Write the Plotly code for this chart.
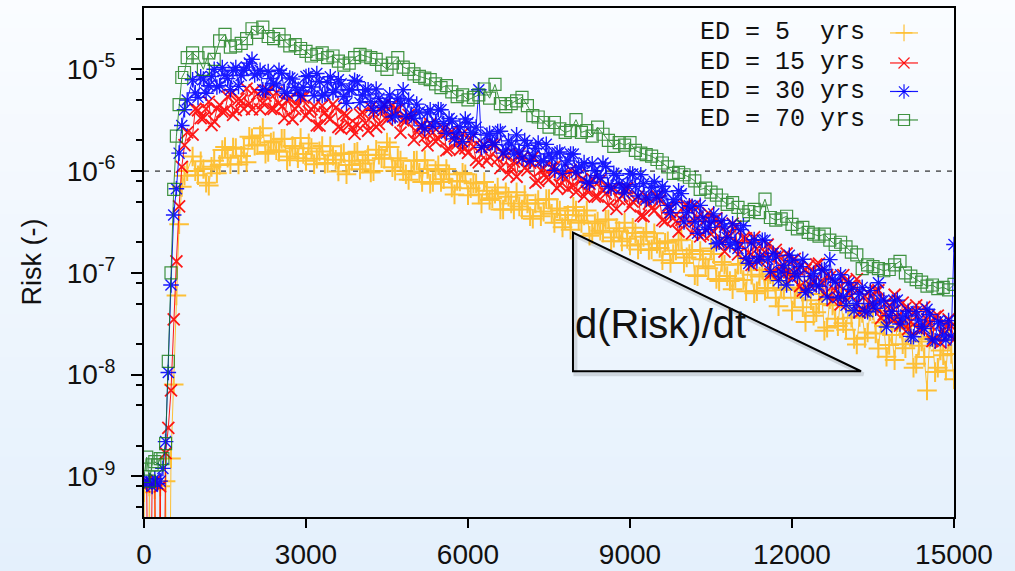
import plotly.graph_objects as go

# ---------------- data ----------------
time_early = [0, 50, 100, 150, 200, 250, 300, 350, 400, 450, 500, 550, 600, 650, 700, 750, 800]
time_steps = time_early + list(range(900, 15001, 100))
time_mid = list(range(950, 14951, 100))   # intermediate samples of the dense series

x_tick_values = [0, 3000, 6000, 9000, 12000, 15000]
x_tick_labels = ["0", "3000", "6000", "9000", "12000", "15000"]
y_tick_values = [1e-9, 1e-8, 1e-7, 1e-6, 1e-5]
y_tick_labels = ["10<sup>-9</sup>", "10<sup>-8</sup>", "10<sup>-7</sup>", "10<sup>-6</sup>", "10<sup>-5</sup>"]
y_minor_values = [5e-10, 8e-10, 2e-9, 5e-9, 8e-9, 2e-8, 5e-8, 8e-8, 2e-7, 5e-7, 8e-7,
                  2e-6, 5e-6, 8e-6, 2e-5]

series_names = ["ED = 5  yrs", "ED = 15 yrs", "ED = 30 yrs", "ED = 70 yrs"]
threshold_risk = 1e-6

risk_ed5 = [
    7e-10, 1e-12, 8e-10, 1e-12, 7.5e-10, 1e-12, 8e-10, 1e-12, 9e-10, 1e-12,
    1.5e-9, 8e-9, 6e-8, 3e-7, 7e-7, 9e-7, 1.0e-6,
    1.39e-6, 9.1e-7, 1.05e-6, 7.2e-7, 1.26e-6, 1.15e-6, 1.72e-6, 1.17e-6, 1.68e-6, 1.41e-6,
    1.22e-6, 2.1e-6, 1.81e-6, 2.64e-6, 1.54e-6, 1.96e-6, 1.55e-6, 2.08e-6, 1.39e-6, 1.68e-6,
    2.11e-6, 1.26e-6, 1.68e-6, 1.32e-6, 1.76e-6, 1.2e-6, 1.42e-6, 9.9e-7, 1.5e-6, 1.15e-6,
    1.51e-6, 1.04e-6, 1.28e-6, 9.7e-7, 1.62e-6, 1.34e-6, 1.91e-6, 1.09e-6, 1.34e-6, 1.0e-6,
    8.2e-7, 1.26e-6, 9.6e-7, 1.28e-6, 7.5e-7, 1.01e-6, 7.8e-7, 1.05e-6, 6.9e-7, 8.0e-7,
    9.6e-7, 5.8e-7, 7.6e-7, 5.9e-7, 7.8e-7, 5.2e-7, 6.0e-7, 4.2e-7, 6.2e-7, 4.8e-7,
    6.2e-7, 4.2e-7, 4.8e-7, 3.4e-7, 5.2e-7, 4.0e-7, 5.3e-7, 3.1e-7, 4.1e-7, 3.3e-7,
    2.66e-7, 4.1e-7, 3.1e-7, 4.1e-7, 2.43e-7, 3.2e-7, 2.5e-7, 3.34e-7, 2.22e-7, 2.57e-7,
    3.1e-7, 1.86e-7, 2.46e-7, 1.91e-7, 2.52e-7, 1.7e-7, 1.94e-7, 1.33e-7, 2.04e-7, 1.53e-7,
    2.09e-7, 1.25e-7, 1.53e-7, 9.5e-8, 1.64e-7, 1.16e-7, 1.74e-7, 8.7e-8, 1.28e-7, 9.3e-8,
    6.9e-8, 1.2e-7, 8.5e-8, 1.26e-7, 6.3e-8, 9.2e-8, 6.7e-8, 9.7e-8, 5.7e-8, 7.1e-8,
    9.95e-8, 4.26e-8, 7.0e-8, 4.6e-8, 7.7e-8, 3.8e-8, 4.95e-8, 2.7e-8, 5.5e-8, 3.55e-8,
    5.6e-8, 2.77e-8, 3.63e-8, 1.98e-8, 4.05e-8, 2.6e-8, 4.27e-8, 1.81e-8, 3.0e-8, 1.96e-8,
    1.39e-8, 2.84e-8, 1.82e-8, 3.0e-8, 1.28e-8, 2.12e-8, 7e-9, 2.34e-8, 1.17e-8, 1.55e-8,
    2.2e-8, 9e-9,
]
risk_ed5_mid = [
    1.0e-6, 1.25e-6, 7.7e-7, 1.1e-6, 9.5e-7, 1.61e-6, 1.35e-6, 1.7e-6, 1.16e-6, 1.66e-6,
    2.17e-6, 1.78e-6, 2.24e-6, 1.48e-6, 1.91e-6, 1.6e-6, 2.07e-6, 1.28e-6, 1.76e-6, 1.34e-6,
    1.47e-6, 1.87e-6, 1.17e-6, 1.56e-6, 1.18e-6, 1.75e-6, 1.29e-6, 1.47e-6, 9.3e-7, 1.26e-6,
    1.55e-6, 1.19e-6, 1.44e-6, 1.0e-6, 1.45e-6, 1.32e-6, 1.72e-6, 1.01e-6, 1.27e-6, 9.3e-7,
    9.9e-7, 1.27e-6, 7.8e-7, 1.05e-6, 7.8e-7, 1.14e-6, 8.3e-7, 9.3e-7, 5.9e-7, 7.9e-7,
    9.3e-7, 6.8e-7, 7.6e-7, 4.8e-7, 6.4e-7, 5.4e-7, 6.9e-7, 4.2e-7, 5.6e-7, 4.2e-7,
    4.5e-7, 5.8e-7, 3.6e-7, 4.8e-7, 3.6e-7, 5.3e-7, 3.8e-7, 4.3e-7, 2.8e-7, 3.7e-7,
    4.45e-7, 3.25e-7, 3.66e-7, 2.32e-7, 3.07e-7, 2.6e-7, 3.32e-7, 2.05e-7, 2.75e-7, 2.04e-7,
    2.16e-7, 2.77e-7, 1.7e-7, 2.26e-7, 1.68e-7, 2.45e-7, 1.76e-7, 1.98e-7, 1.25e-7, 1.66e-7,
    2.11e-7, 1.42e-7, 1.68e-7, 9.3e-8, 1.36e-7, 1.11e-7, 1.53e-7, 8.3e-8, 1.2e-7, 8.3e-8,
    8.8e-8, 1.22e-7, 6.6e-8, 9.6e-8, 6.6e-8, 1.07e-7, 7.1e-8, 8.5e-8, 4.7e-8, 6.8e-8,
    9.3e-8, 5.7e-8, 7.2e-8, 3.3e-8, 5.4e-8, 4.1e-8, 6.2e-8, 2.9e-8, 4.8e-8, 3.0e-8,
    3.2e-8, 4.8e-8, 2.25e-8, 3.7e-8, 2.3e-8, 4.2e-8, 2.54e-8, 3.25e-8, 1.5e-8, 2.45e-8,
    3.27e-8, 1.99e-8, 2.53e-8, 1.17e-8, 1.92e-8, 1.49e-8, 2.24e-8, 1.06e-8, 1.73e-8, 1.1e-8,
    1.6e-8,
]

risk_ed15 = [
    8e-10, 9e-10, 1e-12, 8.5e-10, 9e-10, 1e-12, 8e-10, 1e-12, 1.7e-9, 3e-9,
    7e-9, 3.5e-8, 1.3e-7, 4.5e-7, 1.1e-6, 1.8e-6, 2.4e-6,
    2.28e-6, 3.96e-6, 3.31e-6, 4.79e-6, 3.08e-6, 4.46e-6, 3.89e-6, 5.63e-6, 3.98e-6, 4.91e-6,
    6.47e-6, 4.05e-6, 5.71e-6, 4.64e-6, 6.17e-6, 4.09e-6, 4.67e-6, 3.31e-6, 5.1e-6, 4.06e-6,
    5.23e-6, 3.48e-6, 4.04e-6, 2.81e-6, 4.38e-6, 3.39e-6, 4.55e-6, 2.71e-6, 3.64e-6, 2.87e-6,
    2.32e-6, 3.6e-6, 2.96e-6, 4.22e-6, 2.71e-6, 3.86e-6, 3.19e-6, 4.41e-6, 4.0e-6, 3.15e-6,
    3.56e-6, 2.03e-6, 2.74e-6, 2.18e-6, 2.9e-6, 1.96e-6, 2.31e-6, 1.6e-6, 2.46e-6, 1.86e-6,
    2.33e-6, 1.51e-6, 1.74e-6, 1.22e-6, 1.82e-6, 1.38e-6, 1.82e-6, 1.07e-6, 1.41e-6, 1.09e-6,
    8.8e-7, 1.34e-6, 1.02e-6, 1.36e-6, 8.0e-7, 1.06e-6, 8.3e-7, 1.1e-6, 7.3e-7, 8.4e-7,
    1.03e-6, 6.2e-7, 8.2e-7, 6.4e-7, 8.4e-7, 5.6e-7, 6.5e-7, 4.6e-7, 6.8e-7, 5.3e-7,
    6.7e-7, 4.5e-7, 5.25e-7, 3.65e-7, 5.6e-7, 4.3e-7, 5.7e-7, 3.3e-7, 4.4e-7, 3.46e-7,
    2.55e-7, 4.5e-7, 3.16e-7, 4.6e-7, 2.28e-7, 3.33e-7, 2.4e-7, 3.44e-7, 1.99e-7, 2.41e-7,
    3.05e-7, 1.52e-7, 2.2e-7, 1.58e-7, 2.25e-7, 1.31e-7, 1.59e-7, 9.7e-8, 1.68e-7, 1.16e-7,
    1.55e-7, 8.9e-8, 1.09e-7, 6.7e-8, 1.17e-7, 8.3e-8, 1.23e-7, 6.2e-8, 9.1e-8, 6.7e-8,
    4.9e-8, 8.3e-8, 5.9e-8, 8.7e-8, 4.3e-8, 6.4e-8, 4.6e-8, 6.75e-8, 3.9e-8, 4.8e-8,
    6.1e-8, 3.04e-8, 4.5e-8, 3.3e-8, 4.8e-8, 2.8e-8, 3.5e-8, 2.14e-8, 3.8e-8, 2.7e-8,
    3.5e-8, 2.2e-8,
]
risk_ed15_mid = [
    4.06e-6, 3.31e-6, 4.08e-6, 2.83e-6, 4.1e-6, 3.83e-6, 5.38e-6, 3.57e-6, 5.08e-6, 4.08e-6,
    4.6e-6, 6.21e-6, 4.03e-6, 5.5e-6, 4.08e-6, 5.91e-6, 4.31e-6, 4.95e-6, 3.23e-6, 4.41e-6,
    5.26e-6, 3.84e-6, 4.35e-6, 2.8e-6, 3.78e-6, 3.26e-6, 4.18e-6, 2.61e-6, 3.52e-6, 2.64e-6,
    2.81e-6, 3.75e-6, 2.49e-6, 3.61e-6, 2.89e-6, 4.49e-6, 3.43e-6, 3.91e-6, 2.39e-6, 3.1e-6,
    3.35e-6, 2.43e-6, 2.78e-6, 1.79e-6, 2.39e-6, 2.06e-6, 2.64e-6, 1.64e-6, 2.2e-6, 1.62e-6,
    1.67e-6, 2.09e-6, 1.29e-6, 1.72e-6, 1.26e-6, 1.83e-6, 1.32e-6, 1.48e-6, 9.3e-7, 1.24e-6,
    1.47e-6, 1.07e-6, 1.21e-6, 7.7e-7, 1.02e-6, 8.6e-7, 1.09e-6, 6.75e-7, 9.0e-7, 6.7e-7,
    7.2e-7, 9.2e-7, 5.65e-7, 7.5e-7, 5.6e-7, 8.1e-7, 6.0e-7, 6.7e-7, 4.26e-7, 5.7e-7,
    6.8e-7, 5.0e-7, 5.6e-7, 3.6e-7, 4.8e-7, 4.1e-7, 5.2e-7, 3.2e-7, 4.26e-7, 3.19e-7,
    3.32e-7, 4.59e-7, 2.44e-7, 3.5e-7, 2.37e-7, 3.86e-7, 2.54e-7, 2.98e-7, 1.62e-7, 2.31e-7,
    2.85e-7, 1.88e-7, 2.18e-7, 1.2e-7, 1.72e-7, 1.39e-7, 1.9e-7, 1.01e-7, 1.46e-7, 9.7e-8,
    1.01e-7, 1.37e-7, 7.4e-8, 1.07e-7, 7.4e-8, 1.21e-7, 8.05e-8, 9.5e-8, 5.4e-8, 7.7e-8,
    9.5e-8, 6.3e-8, 7.4e-8, 4.1e-8, 5.9e-8, 4.9e-8, 6.7e-8, 3.6e-8, 5.2e-8, 3.5e-8,
    3.7e-8, 5.1e-8, 2.8e-8, 4.1e-8, 2.8e-8, 4.6e-8, 3.1e-8, 3.7e-8, 2.07e-8, 3.0e-8,
    3.0e-8,
]

risk_ed30 = [
    9e-10, 8.5e-10, 9e-10, 8e-10, 9.5e-10, 8.5e-10, 9e-10, 1.2e-9, 2.2e-9, 1.05e-8,
    7.6e-8, 3.7e-7, 6.7e-7, 1.5e-6, 2.8e-6, 4.0e-6, 5.0e-6,
    7.9e-6, 5.3e-6, 8.0e-6, 6.9e-6, 1.0e-5, 6.9e-6, 8.7e-6, 6.3e-6, 1.04e-5, 8.7e-6,
    1.05e-5, 1.25e-5, 9.1e-6, 6.3e-6, 9.5e-6, 7.3e-6, 9.8e-6, 6.0e-6, 8.2e-6, 6.6e-6,
    5.5e-6, 8.5e-6, 6.7e-6, 9.1e-6, 5.5e-6, 7.4e-6, 5.9e-6, 7.9e-6, 5.4e-6, 6.3e-6,
    7.8e-6, 4.7e-6, 6.3e-6, 4.8e-6, 6.4e-6, 4.2e-6, 4.8e-6, 3.4e-6, 5.2e-6, 6.3e-6,
    5.0e-6, 3.3e-6, 3.8e-6, 2.6e-6, 4.0e-6, 3.05e-6, 4.0e-6, 2.35e-6, 3.1e-6, 2.4e-6,
    1.94e-6, 3.0e-6, 2.3e-6, 6.3e-6, 1.78e-6, 2.35e-6, 1.82e-6, 2.46e-6, 1.61e-6, 1.84e-6,
    2.27e-6, 1.34e-6, 1.79e-6, 1.41e-6, 1.89e-6, 1.26e-6, 1.47e-6, 1.02e-6, 1.54e-6, 1.17e-6,
    1.47e-6, 9.7e-7, 1.12e-6, 7.8e-7, 1.18e-6, 9.0e-7, 1.2e-6, 7.1e-7, 9.5e-7, 7.5e-7,
    6.1e-7, 9.4e-7, 7.1e-7, 9.2e-7, 5.3e-7, 6.9e-7, 5.5e-7, 7.1e-7, 4.6e-7, 5.25e-7,
    6.4e-7, 3.17e-7, 4.56e-7, 3.2e-7, 4.6e-7, 2.66e-7, 3.2e-7, 1.93e-7, 3.28e-7, 2.23e-7,
    3.04e-7, 1.74e-7, 2.9e-7, 1.24e-7, 2.12e-7, 1.44e-7, 2.1e-7, 1.03e-7, 1.46e-7, 1.02e-7,
    7.6e-8, 1.32e-7, 9.2e-8, 1.36e-7, 6.8e-8, 9.9e-8, 7.4e-8, 1.08e-7, 1.35e-7, 8.1e-8,
    9.6e-8, 4.8e-8, 6.9e-8, 5.0e-8, 7.2e-8, 4.15e-8, 5.0e-8, 8.0e-8, 5.4e-8, 3.8e-8,
    5.3e-8, 3.15e-8, 3.85e-8, 2.38e-8, 4.16e-8, 2.98e-8, 4.4e-8, 2.24e-8, 3.33e-8, 2.45e-8,
    3.4e-8, 1.9e-7,
]
risk_ed30_mid = [
    5.86e-6, 8.43e-6, 5.81e-6, 8.5e-6, 6.7e-6, 1.04e-5, 8.1e-6, 9.8e-6, 6.8e-6, 9.8e-6,
    1.15e-5, 8.8e-6, 9.8e-6, 6.2e-6, 8.1e-6, 7.0e-6, 9.1e-6, 5.8e-6, 8.0e-6, 6.2e-6,
    6.65e-6, 8.67e-6, 5.49e-6, 7.54e-6, 5.7e-6, 8.45e-6, 6.27e-6, 7.19e-6, 4.64e-6, 6.25e-6,
    7.55e-6, 5.59e-6, 6.27e-6, 3.95e-6, 5.2e-6, 4.37e-6, 5.6e-6, 3.48e-6, 4.62e-6, 3.42e-6,
    3.61e-6, 4.55e-6, 2.78e-6, 3.72e-6, 2.76e-6, 4.02e-6, 2.92e-6, 3.28e-6, 2.07e-6, 2.73e-6,
    3.25e-6, 2.4e-6, 2.7e-6, 1.71e-6, 2.26e-6, 1.91e-6, 2.44e-6, 1.5e-6, 1.98e-6, 1.47e-6,
    1.57e-6, 2.0e-6, 1.25e-6, 1.67e-6, 1.26e-6, 1.83e-6, 1.34e-6, 1.51e-6, 9.5e-7, 1.26e-6,
    1.47e-6, 1.08e-6, 1.21e-6, 7.6e-7, 1.01e-6, 8.6e-7, 1.11e-6, 6.8e-7, 9.1e-7, 6.9e-7,
    7.35e-7, 9.35e-7, 5.7e-7, 7.5e-7, 5.45e-7, 7.9e-7, 5.7e-7, 6.3e-7, 3.9e-7, 4.9e-7,
    6.0e-7, 3.9e-7, 4.5e-7, 2.45e-7, 3.5e-7, 2.8e-7, 3.8e-7, 2.0e-7, 2.83e-7, 1.89e-7,
    1.98e-7, 2.66e-7, 1.39e-7, 1.97e-7, 1.31e-7, 2.09e-7, 1.36e-7, 1.56e-7, 8.4e-8, 1.19e-7,
    1.49e-7, 9.9e-8, 1.15e-7, 6.4e-8, 9.2e-8, 7.6e-8, 1.06e-7, 5.8e-8, 8.7e-8, 5.7e-8,
    5.9e-8, 8.0e-8, 4.25e-8, 6.2e-8, 4.2e-8, 6.7e-8, 4.5e-8, 5.3e-8, 2.94e-8, 4.2e-8,
    5.4e-8, 3.6e-8, 4.2e-8, 2.36e-8, 3.45e-8, 2.84e-8, 3.9e-8, 2.15e-8, 3.16e-8, 2.19e-8,
    2.4e-8,
]

risk_ed70 = [
    1.0e-9, 1.55e-9, 9e-10, 1.3e-9, 1.4e-9, 1.3e-9, 1.5e-9, 1.5e-9, 2.1e-9, 1.35e-8,
    1.0e-7, 6.6e-7, 2.2e-6, 4.5e-6, 8.3e-6, 9.3e-6, 1.3e-5,
    1.45e-5, 1.3e-5, 1.0e-5, 1.45e-5, 1.25e-5, 1.9e-5, 2.2e-5, 1.65e-5, 1.7e-5, 1.8e-5,
    2.0e-5, 2.5e-5, 2.3e-5, 2.6e-5, 2.1e-5, 2.0e-5, 2.2e-5, 1.9e-5, 1.7e-5, 1.75e-5,
    1.6e-5, 1.5e-5, 1.35e-5, 1.4e-5, 1.45e-5, 1.3e-5, 1.35e-5, 1.2e-5, 1.1e-5, 1.15e-5,
    1.3e-5, 1.4e-5, 1.35e-5, 1.3e-5, 1.25e-5, 1.1e-5, 1.0e-5, 1.15e-5, 1.3e-5, 1.05e-5,
    1.0e-5, 9.0e-6, 8.5e-6, 8.2e-6, 7.9e-6, 7.2e-6, 6.6e-6, 6.9e-6, 6.0e-6, 5.4e-6,
    5.6e-6, 5.0e-6, 5.3e-6, 5.6e-6, 6.4e-6, 5.2e-6, 7.1e-6, 4.6e-6, 4.3e-6, 4.6e-6,
    4.9e-6, 5.3e-6, 4.4e-6, 3.5e-6, 3.4e-6, 3.0e-6, 2.7e-6, 3.0e-6, 2.6e-6, 2.4e-6,
    2.5e-6, 3.2e-6, 2.4e-6, 2.5e-6, 2.2e-6, 2.7e-6, 2.3e-6, 2.0e-6, 1.75e-6, 1.9e-6,
    1.8e-6, 1.9e-6, 1.6e-6, 1.5e-6, 1.45e-6, 1.4e-6, 1.3e-6, 1.2e-6, 1.1e-6, 9.5e-7,
    9.7e-7, 9.2e-7, 8.7e-7, 8.0e-7, 6.6e-7, 6.8e-7, 6.2e-7, 5.8e-7, 5.2e-7, 4.7e-7,
    4.9e-7, 4.4e-7, 3.7e-7, 4.0e-7, 4.2e-7, 3.9e-7, 5.3e-7, 3.5e-7, 3.3e-7, 3.4e-7,
    3.6e-7, 3.0e-7, 2.7e-7, 2.8e-7, 2.5e-7, 2.4e-7, 2.3e-7, 2.4e-7, 2.1e-7, 1.9e-7,
    2.0e-7, 1.8e-7, 1.6e-7, 1.5e-7, 1.1e-7, 1.2e-7, 1.15e-7, 1.1e-7, 1.05e-7, 1.08e-7,
    1.2e-7, 1.3e-7, 1.0e-7, 9.3e-8, 8.6e-8, 8.1e-8, 7.4e-8, 7.6e-8, 7.0e-8, 7.2e-8,
    6.8e-8, 7.7e-8,
]


def merged(main_values, mid_values):
    """Interleave the regular samples with the intermediate ones (sorted by time)."""
    if mid_values is None:
        return time_steps, main_values
    pairs = sorted(zip(time_steps + time_mid, main_values + mid_values))
    return [p[0] for p in pairs], [p[1] for p in pairs]


# ---------------- styling ----------------
FONT = "Liberation Sans, Arial, Helvetica, sans-serif"
MONO = "Liberation Mono, Courier New, monospace"
styles = [
    dict(color="#ffbb22", symbol="cross-thin-open", size=14, lw=2.0, opacity=0.9),
    dict(color="#ff0000", symbol="x-thin-open", size=12, lw=1.8, opacity=0.9),
    dict(color="#0000ff", symbol="asterisk-open", size=13, lw=1.4, opacity=0.9),
    dict(color="#137a13", symbol="square-open", size=12, lw=1.2, opacity=0.8),
]
key_sizes = [12, 11, 12, 11]
all_series = [(risk_ed5, risk_ed5_mid), (risk_ed15, risk_ed15_mid),
              (risk_ed30, risk_ed30_mid), (risk_ed70, None)]

fig = go.Figure()

# dashed 1e-6 reference line
fig.add_trace(go.Scatter(
    x=[x_tick_values[0], x_tick_values[-1]], y=[threshold_risk, threshold_risk],
    mode="lines", line=dict(color="black", width=1, dash="5px,6px"),
    hoverinfo="skip", showlegend=False))

for name, (main_v, mid_v), st in zip(series_names, all_series, styles):
    xs, ys = merged(main_v, mid_v)
    fig.add_trace(go.Scatter(
        x=xs, y=ys, name=name, mode="lines+markers",
        line=dict(color=st["color"], width=1),
        marker=dict(symbol=st["symbol"], size=st["size"], color=st["color"],
                    line=dict(color=st["color"], width=st["lw"])),
        opacity=st["opacity"], showlegend=False))

# ---------------- manual key (text left, sample right, like gnuplot) ----------------
key_rows = [0.951, 0.892, 0.836, 0.780]
key_text_x = 0.684
key_line = (0.921, 0.9556)
annotations = []
for name, yrow, st, ks in zip(series_names, key_rows, styles, key_sizes):
    annotations.append(dict(
        x=key_text_x, y=yrow, xref="paper", yref="paper", text=name.replace(" ", "\u00a0"),
        showarrow=False, xanchor="left", yanchor="middle",
        font=dict(family=MONO, size=25, color="#111111")))
    fig.add_trace(go.Scatter(
        x=list(key_line), y=[yrow, yrow], xaxis="x2", yaxis="y2", mode="lines",
        line=dict(color=st["color"], width=1.2), opacity=st["opacity"],
        hoverinfo="skip", showlegend=False))
    fig.add_trace(go.Scatter(
        x=[(key_line[0] + key_line[1]) / 2], y=[yrow], xaxis="x2", yaxis="y2", mode="markers",
        marker=dict(symbol=st["symbol"], size=ks, color=st["color"],
                    line=dict(color=st["color"], width=1.2)),
        opacity=st["opacity"], hoverinfo="skip", showlegend=False, cliponaxis=False))

# y-axis title
annotations.append(dict(x=-0.1395, y=0.5, xref="paper", yref="paper", text="Risk (-)",
                        textangle=-90, showarrow=False, xanchor="center", yanchor="middle",
                        font=dict(family=FONT, size=27, color="#111111")))
# slope label
annotations.append(dict(x=0.530, y=0.379, xref="paper", yref="paper", text="d(Risk)/dt",
                        showarrow=False, xanchor="left", yanchor="middle",
                        font=dict(family=FONT, size=40, color="#111111")))

# ---------------- background gradient + triangle ----------------
shapes = []
top_rgb = (250, 252, 255)
bot_rgb = (228, 240, 252)
n_bands = 40
y_lo, y_hi = -54 / 509, 1 + 8 / 509
for i in range(n_bands):
    t = (i + 0.5) / n_bands
    r = round(bot_rgb[0] + (top_rgb[0] - bot_rgb[0]) * t)
    g = round(bot_rgb[1] + (top_rgb[1] - bot_rgb[1]) * t)
    b = round(bot_rgb[2] + (top_rgb[2] - bot_rgb[2]) * t)
    y0 = y_lo + (y_hi - y_lo) * i / n_bands
    y1 = y_lo + (y_hi - y_lo) * (i + 1) / n_bands + 0.002
    shapes.append(dict(type="rect", xref="paper", yref="paper", x0=-0.2, x1=1.1, y0=y0, y1=y1,
                       fillcolor=f"rgb({r},{g},{b})", line=dict(width=0), layer="below"))

tri = [(0.5296, 0.5588), (0.5296, 0.2863), (0.8852, 0.2863)]
dx, dy = 0.003, -0.006
shadow_path = "M {} {} L {} {} L {} {} Z".format(*[v for p in tri for v in (p[0] + dx, p[1] + dy)])
tri_path = "M {} {} L {} {} L {} {} Z".format(*[v for p in tri for v in p])
shapes.append(dict(type="path", xref="paper", yref="paper", path=shadow_path,
                   line=dict(color="rgba(0,0,0,0.12)", width=4)))
shapes.append(dict(type="path", xref="paper", yref="paper", path=tri_path,
                   line=dict(color="black", width=2)))

fig.update_layout(
    width=1015, height=571,
    margin=dict(l=144, r=61, t=8, b=54, pad=0),
    paper_bgcolor="rgb(240,246,253)",
    plot_bgcolor="rgba(0,0,0,0)",
    showlegend=False,
    shapes=shapes,
    annotations=annotations,
    xaxis=dict(
        range=[x_tick_values[0], x_tick_values[-1]], automargin=False,
        tickmode="array", tickvals=x_tick_values, ticktext=x_tick_labels,
        ticks="outside", ticklen=9, tickwidth=1.5, tickcolor="black",
        showline=True, linewidth=2, linecolor="black", mirror=True,
        showgrid=False, zeroline=False, ticklabelstandoff=2,
        tickfont=dict(family=FONT, size=28, color="#111111")),
    yaxis=dict(
        type="log", range=[-9.398, -4.398], automargin=False,
        tickmode="array", tickvals=y_tick_values, ticktext=y_tick_labels,
        ticks="outside", ticklen=11, tickwidth=1.5, tickcolor="black",
        minor=dict(tickmode="array", tickvals=y_minor_values, ticks="outside",
                   ticklen=6, tickwidth=1.5, tickcolor="black", showgrid=False),
        showline=True, linewidth=2, linecolor="black", mirror=True,
        showgrid=False, zeroline=False, ticklabelstandoff=10,
        tickfont=dict(family=FONT, size=28, color="#111111")),
    xaxis2=dict(overlaying="x", range=[0, 1], visible=False),
    yaxis2=dict(overlaying="y", range=[0, 1], visible=False),
)

fig.write_html("out.html")
